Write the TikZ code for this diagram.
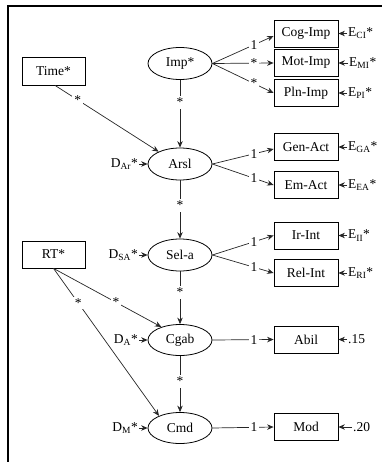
\documentclass[tikz,border=0pt]{standalone}
\usepackage{fontspec}
\setmainfont{Liberation Serif}
\usetikzlibrary{arrows.meta,shapes.geometric,calc}

\begin{document}
\begin{tikzpicture}[x=1pt,y=-1pt,
  font=\fontsize{13.5}{15}\selectfont,
  obs/.style={draw, line width=0.8pt, minimum width=64pt, minimum height=27pt, inner sep=0pt},
  lat/.style={draw, ellipse, line width=0.8pt, minimum width=64pt, minimum height=32pt, inner sep=0pt},
  conn/.style={line width=0.7pt, draw=black!85, -{Stealth[length=6.5pt,width=5.5pt]}},
  lbl/.style={fill=white, inner sep=2pt},
  errlbl/.style={inner sep=1pt, anchor=west},
  distlbl/.style={inner sep=1pt, anchor=east},
]
\useasboundingbox (0,0) rectangle (382,462);
% frame
\draw[line width=1.3pt] (8,462) -- (8,6) -- (382,6);

% exogenous observed variables
\node[obs, minimum width=63pt, minimum height=28pt] (time) at (53.5,71) {Time*};
\node[obs, minimum width=63pt, minimum height=27pt] (rt) at (53.5,254.5) {RT*};

% latent factors
\node[lat] (imp)  at (180,63.5) {Imp*};
\node[lat] (arsl) at (180,164)  {Arsl};
\node[lat] (sela) at (180,255)  {Sel-a};
\node[lat, minimum height=31pt] (cgab) at (180,340) {Cgab};
\node[lat, minimum height=31pt] (cmd)  at (180,428) {Cmd};

% indicators
\node[obs] (cog)  at (306,33.5)  {Cog-Imp};
\node[obs] (mot)  at (306,63)    {Mot-Imp};
\node[obs] (pln)  at (306,93)    {Pln-Imp};
\node[obs] (gen)  at (306,147)   {Gen-Act};
\node[obs] (em)   at (306,185)   {Em-Act};
\node[obs] (ir)   at (306,235.5) {Ir-Int};
\node[obs] (rel)  at (306,273)   {Rel-Int};
\node[obs] (abil) at (306,339.5) {Abil};
\node[obs] (mod)  at (306,427)   {Mod};

% error terms
\node[errlbl] (eci) at (347,33.5)  {E\textsubscript{CI}*};
\node[errlbl] (emi) at (348,63)    {E\textsubscript{MI}*};
\node[errlbl] (epi) at (347,93)    {E\textsubscript{PI}*};
\node[errlbl] (ega) at (347,147)   {E\textsubscript{GA}*};
\node[errlbl] (eea) at (347,185)   {E\textsubscript{EA}*};
\node[errlbl] (eii) at (347,235.5) {E\textsubscript{II}*};
\node[errlbl] (eri) at (347,273)   {E\textsubscript{RI}*};
\node[errlbl] (eab) at (347,339.5) {.15};
\node[errlbl] (emo) at (352,427)   {.20};

% disturbances
\node[distlbl] (dar) at (139,164) {D\textsubscript{Ar}*};
\node[distlbl] (dsa) at (139,255) {D\textsubscript{SA}*};
\node[distlbl] (da)  at (139,340) {D\textsubscript{A}*};
\node[distlbl] (dm)  at (139,428) {D\textsubscript{M}*};

% error arrows
\foreach \e/\b in {eci/cog, emi/mot, epi/pln, ega/gen, eea/em, eii/ir, eri/rel, eab/abil, emo/mod}
  \draw[conn] (\e.west) -- (\b.east);
\foreach \d/\f in {dar/arsl, dsa/sela, da/cgab, dm/cmd}
  \draw[conn] (\d.east) -- (\f.west);

% measurement paths
\draw[conn] (imp.east) -- node[lbl,pos=0.68]{1} ($(cog.west)+(0,2.5)$);
\draw[conn] (imp.east) -- node[lbl,pos=0.68]{*} (mot.west);
\draw[conn] (imp.east) -- node[lbl,pos=0.68]{*} (pln.west);
\draw[conn] (arsl.east) -- node[lbl,pos=0.68]{1} ($(gen.west)+(0,2)$);
\draw[conn] (arsl.east) -- node[lbl,pos=0.68]{1} (em.west);
\draw[conn] (sela.east) -- node[lbl,pos=0.68]{1} (ir.west);
\draw[conn] (sela.east) -- node[lbl,pos=0.68]{1} (rel.west);
\draw[conn] (cgab.east) -- node[lbl,pos=0.68]{1} (abil.west);
\draw[conn] (cmd.east) -- node[lbl,pos=0.68]{1} (mod.west);

% structural paths
\draw[conn] (imp) -- node[lbl,pos=0.33]{*} (arsl);
\draw[conn] (arsl) -- node[lbl,pos=0.43]{*} (sela);
\draw[conn] (sela) -- node[lbl,pos=0.4]{*} (cgab);
\draw[conn] (cgab) -- node[lbl,pos=0.45]{*} (cmd);
\draw[conn] ($(time.south)+(1.5,0)$) -- node[lbl,pos=0.22]{*} (arsl.150);
\draw[conn] (rt.south) -- node[lbl,pos=0.58]{*} (cgab.145);
\draw[conn] (rt.south) -- node[lbl,pos=0.235]{*} (cmd.150);
\end{tikzpicture}
\end{document}
